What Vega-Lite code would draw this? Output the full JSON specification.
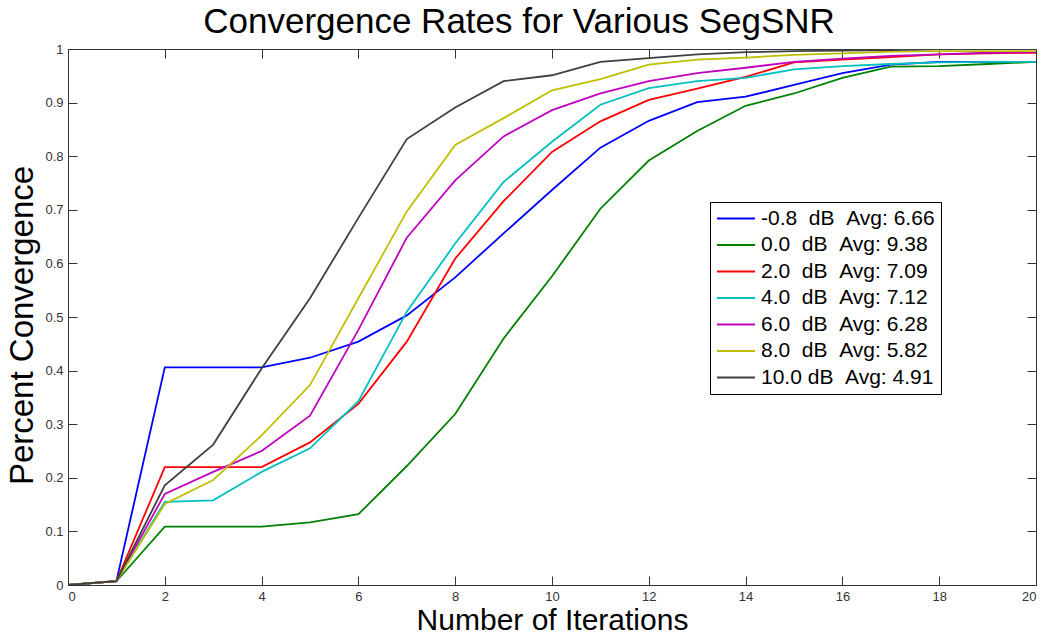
{
  "$schema": "https://vega.github.io/schema/vega-lite/v6.json",
  "autosize": "none",
  "width": 968,
  "height": 536,
  "padding": {"left": 68, "top": 49, "right": 6, "bottom": 53},
  "background": "white",
  "title": {"text": "Convergence Rates for Various SegSNR", "font": "Liberation Sans", "fontSize": 35, "fontWeight": "normal", "color": "black", "dx": -33, "baseline": "bottom", "offset": -32},
  "config": {
    "view": {"stroke": "#333"},
    "axis": {"labelFont": "Liberation Sans", "labelFontSize": 13, "labelColor": "#333", "titleFont": "Liberation Sans", "titleFontWeight": "normal", "titleColor": "black", "domainColor": "#333", "tickColor": "#333", "tickSize": -9, "grid": false, "labelPadding": 14},
    "legend": {"labelFont": "Liberation Sans"}
  },
  "data": {"values": [
    {"x":0,"y":0,"s":"-0.8\u00a0\u00a0dB\u00a0\u00a0Avg: 6.66"},{"x":1,"y":0.007,"s":"-0.8\u00a0\u00a0dB\u00a0\u00a0Avg: 6.66"},{"x":2,"y":0.406,"s":"-0.8\u00a0\u00a0dB\u00a0\u00a0Avg: 6.66"},{"x":3,"y":0.406,"s":"-0.8\u00a0\u00a0dB\u00a0\u00a0Avg: 6.66"},{"x":4,"y":0.406,"s":"-0.8\u00a0\u00a0dB\u00a0\u00a0Avg: 6.66"},{"x":5,"y":0.424,"s":"-0.8\u00a0\u00a0dB\u00a0\u00a0Avg: 6.66"},{"x":6,"y":0.454,"s":"-0.8\u00a0\u00a0dB\u00a0\u00a0Avg: 6.66"},{"x":7,"y":0.503,"s":"-0.8\u00a0\u00a0dB\u00a0\u00a0Avg: 6.66"},{"x":8,"y":0.574,"s":"-0.8\u00a0\u00a0dB\u00a0\u00a0Avg: 6.66"},{"x":9,"y":0.656,"s":"-0.8\u00a0\u00a0dB\u00a0\u00a0Avg: 6.66"},{"x":10,"y":0.737,"s":"-0.8\u00a0\u00a0dB\u00a0\u00a0Avg: 6.66"},{"x":11,"y":0.816,"s":"-0.8\u00a0\u00a0dB\u00a0\u00a0Avg: 6.66"},{"x":12,"y":0.866,"s":"-0.8\u00a0\u00a0dB\u00a0\u00a0Avg: 6.66"},{"x":13,"y":0.901,"s":"-0.8\u00a0\u00a0dB\u00a0\u00a0Avg: 6.66"},{"x":14,"y":0.911,"s":"-0.8\u00a0\u00a0dB\u00a0\u00a0Avg: 6.66"},{"x":15,"y":0.933,"s":"-0.8\u00a0\u00a0dB\u00a0\u00a0Avg: 6.66"},{"x":16,"y":0.955,"s":"-0.8\u00a0\u00a0dB\u00a0\u00a0Avg: 6.66"},{"x":17,"y":0.971,"s":"-0.8\u00a0\u00a0dB\u00a0\u00a0Avg: 6.66"},{"x":18,"y":0.976,"s":"-0.8\u00a0\u00a0dB\u00a0\u00a0Avg: 6.66"},{"x":19,"y":0.976,"s":"-0.8\u00a0\u00a0dB\u00a0\u00a0Avg: 6.66"},{"x":20,"y":0.976,"s":"-0.8\u00a0\u00a0dB\u00a0\u00a0Avg: 6.66"},
    {"x":0,"y":0,"s":"\u00a00.0\u00a0\u00a0dB\u00a0\u00a0Avg: 9.38"},{"x":1,"y":0.007,"s":"\u00a00.0\u00a0\u00a0dB\u00a0\u00a0Avg: 9.38"},{"x":2,"y":0.109,"s":"\u00a00.0\u00a0\u00a0dB\u00a0\u00a0Avg: 9.38"},{"x":3,"y":0.109,"s":"\u00a00.0\u00a0\u00a0dB\u00a0\u00a0Avg: 9.38"},{"x":4,"y":0.109,"s":"\u00a00.0\u00a0\u00a0dB\u00a0\u00a0Avg: 9.38"},{"x":5,"y":0.117,"s":"\u00a00.0\u00a0\u00a0dB\u00a0\u00a0Avg: 9.38"},{"x":6,"y":0.132,"s":"\u00a00.0\u00a0\u00a0dB\u00a0\u00a0Avg: 9.38"},{"x":7,"y":0.222,"s":"\u00a00.0\u00a0\u00a0dB\u00a0\u00a0Avg: 9.38"},{"x":8,"y":0.319,"s":"\u00a00.0\u00a0\u00a0dB\u00a0\u00a0Avg: 9.38"},{"x":9,"y":0.46,"s":"\u00a00.0\u00a0\u00a0dB\u00a0\u00a0Avg: 9.38"},{"x":10,"y":0.576,"s":"\u00a00.0\u00a0\u00a0dB\u00a0\u00a0Avg: 9.38"},{"x":11,"y":0.702,"s":"\u00a00.0\u00a0\u00a0dB\u00a0\u00a0Avg: 9.38"},{"x":12,"y":0.792,"s":"\u00a00.0\u00a0\u00a0dB\u00a0\u00a0Avg: 9.38"},{"x":13,"y":0.847,"s":"\u00a00.0\u00a0\u00a0dB\u00a0\u00a0Avg: 9.38"},{"x":14,"y":0.894,"s":"\u00a00.0\u00a0\u00a0dB\u00a0\u00a0Avg: 9.38"},{"x":15,"y":0.917,"s":"\u00a00.0\u00a0\u00a0dB\u00a0\u00a0Avg: 9.38"},{"x":16,"y":0.946,"s":"\u00a00.0\u00a0\u00a0dB\u00a0\u00a0Avg: 9.38"},{"x":17,"y":0.967,"s":"\u00a00.0\u00a0\u00a0dB\u00a0\u00a0Avg: 9.38"},{"x":18,"y":0.968,"s":"\u00a00.0\u00a0\u00a0dB\u00a0\u00a0Avg: 9.38"},{"x":19,"y":0.972,"s":"\u00a00.0\u00a0\u00a0dB\u00a0\u00a0Avg: 9.38"},{"x":20,"y":0.976,"s":"\u00a00.0\u00a0\u00a0dB\u00a0\u00a0Avg: 9.38"},
    {"x":0,"y":0,"s":"\u00a02.0\u00a0\u00a0dB\u00a0\u00a0Avg: 7.09"},{"x":1,"y":0.007,"s":"\u00a02.0\u00a0\u00a0dB\u00a0\u00a0Avg: 7.09"},{"x":2,"y":0.22,"s":"\u00a02.0\u00a0\u00a0dB\u00a0\u00a0Avg: 7.09"},{"x":3,"y":0.22,"s":"\u00a02.0\u00a0\u00a0dB\u00a0\u00a0Avg: 7.09"},{"x":4,"y":0.22,"s":"\u00a02.0\u00a0\u00a0dB\u00a0\u00a0Avg: 7.09"},{"x":5,"y":0.266,"s":"\u00a02.0\u00a0\u00a0dB\u00a0\u00a0Avg: 7.09"},{"x":6,"y":0.338,"s":"\u00a02.0\u00a0\u00a0dB\u00a0\u00a0Avg: 7.09"},{"x":7,"y":0.454,"s":"\u00a02.0\u00a0\u00a0dB\u00a0\u00a0Avg: 7.09"},{"x":8,"y":0.609,"s":"\u00a02.0\u00a0\u00a0dB\u00a0\u00a0Avg: 7.09"},{"x":9,"y":0.716,"s":"\u00a02.0\u00a0\u00a0dB\u00a0\u00a0Avg: 7.09"},{"x":10,"y":0.808,"s":"\u00a02.0\u00a0\u00a0dB\u00a0\u00a0Avg: 7.09"},{"x":11,"y":0.865,"s":"\u00a02.0\u00a0\u00a0dB\u00a0\u00a0Avg: 7.09"},{"x":12,"y":0.905,"s":"\u00a02.0\u00a0\u00a0dB\u00a0\u00a0Avg: 7.09"},{"x":13,"y":0.926,"s":"\u00a02.0\u00a0\u00a0dB\u00a0\u00a0Avg: 7.09"},{"x":14,"y":0.948,"s":"\u00a02.0\u00a0\u00a0dB\u00a0\u00a0Avg: 7.09"},{"x":15,"y":0.975,"s":"\u00a02.0\u00a0\u00a0dB\u00a0\u00a0Avg: 7.09"},{"x":16,"y":0.98,"s":"\u00a02.0\u00a0\u00a0dB\u00a0\u00a0Avg: 7.09"},{"x":17,"y":0.985,"s":"\u00a02.0\u00a0\u00a0dB\u00a0\u00a0Avg: 7.09"},{"x":18,"y":0.99,"s":"\u00a02.0\u00a0\u00a0dB\u00a0\u00a0Avg: 7.09"},{"x":19,"y":0.992,"s":"\u00a02.0\u00a0\u00a0dB\u00a0\u00a0Avg: 7.09"},{"x":20,"y":0.993,"s":"\u00a02.0\u00a0\u00a0dB\u00a0\u00a0Avg: 7.09"},
    {"x":0,"y":0,"s":"\u00a04.0\u00a0\u00a0dB\u00a0\u00a0Avg: 7.12"},{"x":1,"y":0.007,"s":"\u00a04.0\u00a0\u00a0dB\u00a0\u00a0Avg: 7.12"},{"x":2,"y":0.155,"s":"\u00a04.0\u00a0\u00a0dB\u00a0\u00a0Avg: 7.12"},{"x":3,"y":0.158,"s":"\u00a04.0\u00a0\u00a0dB\u00a0\u00a0Avg: 7.12"},{"x":4,"y":0.211,"s":"\u00a04.0\u00a0\u00a0dB\u00a0\u00a0Avg: 7.12"},{"x":5,"y":0.255,"s":"\u00a04.0\u00a0\u00a0dB\u00a0\u00a0Avg: 7.12"},{"x":6,"y":0.343,"s":"\u00a04.0\u00a0\u00a0dB\u00a0\u00a0Avg: 7.12"},{"x":7,"y":0.51,"s":"\u00a04.0\u00a0\u00a0dB\u00a0\u00a0Avg: 7.12"},{"x":8,"y":0.637,"s":"\u00a04.0\u00a0\u00a0dB\u00a0\u00a0Avg: 7.12"},{"x":9,"y":0.752,"s":"\u00a04.0\u00a0\u00a0dB\u00a0\u00a0Avg: 7.12"},{"x":10,"y":0.827,"s":"\u00a04.0\u00a0\u00a0dB\u00a0\u00a0Avg: 7.12"},{"x":11,"y":0.896,"s":"\u00a04.0\u00a0\u00a0dB\u00a0\u00a0Avg: 7.12"},{"x":12,"y":0.927,"s":"\u00a04.0\u00a0\u00a0dB\u00a0\u00a0Avg: 7.12"},{"x":13,"y":0.94,"s":"\u00a04.0\u00a0\u00a0dB\u00a0\u00a0Avg: 7.12"},{"x":14,"y":0.946,"s":"\u00a04.0\u00a0\u00a0dB\u00a0\u00a0Avg: 7.12"},{"x":15,"y":0.962,"s":"\u00a04.0\u00a0\u00a0dB\u00a0\u00a0Avg: 7.12"},{"x":16,"y":0.968,"s":"\u00a04.0\u00a0\u00a0dB\u00a0\u00a0Avg: 7.12"},{"x":17,"y":0.972,"s":"\u00a04.0\u00a0\u00a0dB\u00a0\u00a0Avg: 7.12"},{"x":18,"y":0.975,"s":"\u00a04.0\u00a0\u00a0dB\u00a0\u00a0Avg: 7.12"},{"x":19,"y":0.976,"s":"\u00a04.0\u00a0\u00a0dB\u00a0\u00a0Avg: 7.12"},{"x":20,"y":0.976,"s":"\u00a04.0\u00a0\u00a0dB\u00a0\u00a0Avg: 7.12"},
    {"x":0,"y":0,"s":"\u00a06.0\u00a0\u00a0dB\u00a0\u00a0Avg: 6.28"},{"x":1,"y":0.007,"s":"\u00a06.0\u00a0\u00a0dB\u00a0\u00a0Avg: 6.28"},{"x":2,"y":0.17,"s":"\u00a06.0\u00a0\u00a0dB\u00a0\u00a0Avg: 6.28"},{"x":3,"y":0.211,"s":"\u00a06.0\u00a0\u00a0dB\u00a0\u00a0Avg: 6.28"},{"x":4,"y":0.25,"s":"\u00a06.0\u00a0\u00a0dB\u00a0\u00a0Avg: 6.28"},{"x":5,"y":0.316,"s":"\u00a06.0\u00a0\u00a0dB\u00a0\u00a0Avg: 6.28"},{"x":6,"y":0.476,"s":"\u00a06.0\u00a0\u00a0dB\u00a0\u00a0Avg: 6.28"},{"x":7,"y":0.648,"s":"\u00a06.0\u00a0\u00a0dB\u00a0\u00a0Avg: 6.28"},{"x":8,"y":0.755,"s":"\u00a06.0\u00a0\u00a0dB\u00a0\u00a0Avg: 6.28"},{"x":9,"y":0.837,"s":"\u00a06.0\u00a0\u00a0dB\u00a0\u00a0Avg: 6.28"},{"x":10,"y":0.886,"s":"\u00a06.0\u00a0\u00a0dB\u00a0\u00a0Avg: 6.28"},{"x":11,"y":0.917,"s":"\u00a06.0\u00a0\u00a0dB\u00a0\u00a0Avg: 6.28"},{"x":12,"y":0.94,"s":"\u00a06.0\u00a0\u00a0dB\u00a0\u00a0Avg: 6.28"},{"x":13,"y":0.955,"s":"\u00a06.0\u00a0\u00a0dB\u00a0\u00a0Avg: 6.28"},{"x":14,"y":0.965,"s":"\u00a06.0\u00a0\u00a0dB\u00a0\u00a0Avg: 6.28"},{"x":15,"y":0.976,"s":"\u00a06.0\u00a0\u00a0dB\u00a0\u00a0Avg: 6.28"},{"x":16,"y":0.982,"s":"\u00a06.0\u00a0\u00a0dB\u00a0\u00a0Avg: 6.28"},{"x":17,"y":0.987,"s":"\u00a06.0\u00a0\u00a0dB\u00a0\u00a0Avg: 6.28"},{"x":18,"y":0.99,"s":"\u00a06.0\u00a0\u00a0dB\u00a0\u00a0Avg: 6.28"},{"x":19,"y":0.993,"s":"\u00a06.0\u00a0\u00a0dB\u00a0\u00a0Avg: 6.28"},{"x":20,"y":0.994,"s":"\u00a06.0\u00a0\u00a0dB\u00a0\u00a0Avg: 6.28"},
    {"x":0,"y":0,"s":"\u00a08.0\u00a0\u00a0dB\u00a0\u00a0Avg: 5.82"},{"x":1,"y":0.007,"s":"\u00a08.0\u00a0\u00a0dB\u00a0\u00a0Avg: 5.82"},{"x":2,"y":0.151,"s":"\u00a08.0\u00a0\u00a0dB\u00a0\u00a0Avg: 5.82"},{"x":3,"y":0.196,"s":"\u00a08.0\u00a0\u00a0dB\u00a0\u00a0Avg: 5.82"},{"x":4,"y":0.279,"s":"\u00a08.0\u00a0\u00a0dB\u00a0\u00a0Avg: 5.82"},{"x":5,"y":0.373,"s":"\u00a08.0\u00a0\u00a0dB\u00a0\u00a0Avg: 5.82"},{"x":6,"y":0.535,"s":"\u00a08.0\u00a0\u00a0dB\u00a0\u00a0Avg: 5.82"},{"x":7,"y":0.697,"s":"\u00a08.0\u00a0\u00a0dB\u00a0\u00a0Avg: 5.82"},{"x":8,"y":0.821,"s":"\u00a08.0\u00a0\u00a0dB\u00a0\u00a0Avg: 5.82"},{"x":9,"y":0.871,"s":"\u00a08.0\u00a0\u00a0dB\u00a0\u00a0Avg: 5.82"},{"x":10,"y":0.923,"s":"\u00a08.0\u00a0\u00a0dB\u00a0\u00a0Avg: 5.82"},{"x":11,"y":0.944,"s":"\u00a08.0\u00a0\u00a0dB\u00a0\u00a0Avg: 5.82"},{"x":12,"y":0.971,"s":"\u00a08.0\u00a0\u00a0dB\u00a0\u00a0Avg: 5.82"},{"x":13,"y":0.98,"s":"\u00a08.0\u00a0\u00a0dB\u00a0\u00a0Avg: 5.82"},{"x":14,"y":0.984,"s":"\u00a08.0\u00a0\u00a0dB\u00a0\u00a0Avg: 5.82"},{"x":15,"y":0.989,"s":"\u00a08.0\u00a0\u00a0dB\u00a0\u00a0Avg: 5.82"},{"x":16,"y":0.992,"s":"\u00a08.0\u00a0\u00a0dB\u00a0\u00a0Avg: 5.82"},{"x":17,"y":0.995,"s":"\u00a08.0\u00a0\u00a0dB\u00a0\u00a0Avg: 5.82"},{"x":18,"y":0.996,"s":"\u00a08.0\u00a0\u00a0dB\u00a0\u00a0Avg: 5.82"},{"x":19,"y":0.996,"s":"\u00a08.0\u00a0\u00a0dB\u00a0\u00a0Avg: 5.82"},{"x":20,"y":0.996,"s":"\u00a08.0\u00a0\u00a0dB\u00a0\u00a0Avg: 5.82"},
    {"x":0,"y":0,"s":"10.0\u00a0dB\u00a0\u00a0Avg: 4.91"},{"x":1,"y":0.007,"s":"10.0\u00a0dB\u00a0\u00a0Avg: 4.91"},{"x":2,"y":0.186,"s":"10.0\u00a0dB\u00a0\u00a0Avg: 4.91"},{"x":3,"y":0.262,"s":"10.0\u00a0dB\u00a0\u00a0Avg: 4.91"},{"x":4,"y":0.404,"s":"10.0\u00a0dB\u00a0\u00a0Avg: 4.91"},{"x":5,"y":0.535,"s":"10.0\u00a0dB\u00a0\u00a0Avg: 4.91"},{"x":6,"y":0.685,"s":"10.0\u00a0dB\u00a0\u00a0Avg: 4.91"},{"x":7,"y":0.832,"s":"10.0\u00a0dB\u00a0\u00a0Avg: 4.91"},{"x":8,"y":0.891,"s":"10.0\u00a0dB\u00a0\u00a0Avg: 4.91"},{"x":9,"y":0.94,"s":"10.0\u00a0dB\u00a0\u00a0Avg: 4.91"},{"x":10,"y":0.951,"s":"10.0\u00a0dB\u00a0\u00a0Avg: 4.91"},{"x":11,"y":0.976,"s":"10.0\u00a0dB\u00a0\u00a0Avg: 4.91"},{"x":12,"y":0.983,"s":"10.0\u00a0dB\u00a0\u00a0Avg: 4.91"},{"x":13,"y":0.99,"s":"10.0\u00a0dB\u00a0\u00a0Avg: 4.91"},{"x":14,"y":0.994,"s":"10.0\u00a0dB\u00a0\u00a0Avg: 4.91"},{"x":15,"y":0.996,"s":"10.0\u00a0dB\u00a0\u00a0Avg: 4.91"},{"x":16,"y":0.997,"s":"10.0\u00a0dB\u00a0\u00a0Avg: 4.91"},{"x":17,"y":0.998,"s":"10.0\u00a0dB\u00a0\u00a0Avg: 4.91"},{"x":18,"y":1.0,"s":"10.0\u00a0dB\u00a0\u00a0Avg: 4.91"},{"x":19,"y":1.0,"s":"10.0\u00a0dB\u00a0\u00a0Avg: 4.91"},{"x":20,"y":1.0,"s":"10.0\u00a0dB\u00a0\u00a0Avg: 4.91"}
  ]},
  "layer": [
    {
      "mark": {"type": "line", "strokeWidth": 1.8, "clip": true},
      "encoding": {
        "x": {"field": "x", "type": "quantitative", "scale": {"domain": [0, 20], "nice": false, "zero": false},
              "axis": {"orient": "bottom", "values": [0,2,4,6,8,10,12,14,16,18,20], "format": "d", "title": "Number of Iterations", "titleFontSize": 30, "titlePadding": 2}},
        "y": {"field": "y", "type": "quantitative", "scale": {"domain": [0, 1], "nice": false},
              "axis": {"orient": "left", "values": [0,0.1,0.2,0.3,0.4,0.5,0.6,0.7,0.8,0.9,1], "format": ".1~f", "title": "Percent Convergence", "titleFontSize": 33, "titlePadding": 5, "titleY": 276}},
        "color": {"field": "s", "type": "nominal", "sort": null,
          "scale": {"domain": ["-0.8\u00a0\u00a0dB\u00a0\u00a0Avg: 6.66", "\u00a00.0\u00a0\u00a0dB\u00a0\u00a0Avg: 9.38", "\u00a02.0\u00a0\u00a0dB\u00a0\u00a0Avg: 7.09", "\u00a04.0\u00a0\u00a0dB\u00a0\u00a0Avg: 7.12", "\u00a06.0\u00a0\u00a0dB\u00a0\u00a0Avg: 6.28", "\u00a08.0\u00a0\u00a0dB\u00a0\u00a0Avg: 5.82", "10.0\u00a0dB\u00a0\u00a0Avg: 4.91"],
                    "range": ["#0000ff", "#008000", "#ff0000", "#00bfbf", "#bf00bf", "#bfbf00", "#404040"]},
          "legend": {"title": null, "orient": "none", "legendX": 642, "legendY": 153, "symbolType": "M-1,0H3", "symbolSize": 361, "symbolStrokeWidth": 2, "labelFontSize": 21, "labelColor": "black", "labelOffset": 24, "rowPadding": 4.5, "padding": 6, "fillColor": "white", "strokeColor": "black", "labelLimit": 400}
        }
      }
    },
    {
      "mark": {"type": "line", "strokeOpacity": 0},
      "encoding": {
        "x": {"field": "x", "type": "quantitative", "axis": {"orient": "top", "values": [0,2,4,6,8,10,12,14,16,18,20], "labels": false, "title": null}},
        "y": {"field": "y", "type": "quantitative", "axis": {"orient": "right", "values": [0,0.1,0.2,0.3,0.4,0.5,0.6,0.7,0.8,0.9,1], "labels": false, "title": null}},
        "detail": {"field": "s", "type": "nominal"}
      }
    }
  ],
  "resolve": {"axis": {"x": "independent", "y": "independent"}}
}
